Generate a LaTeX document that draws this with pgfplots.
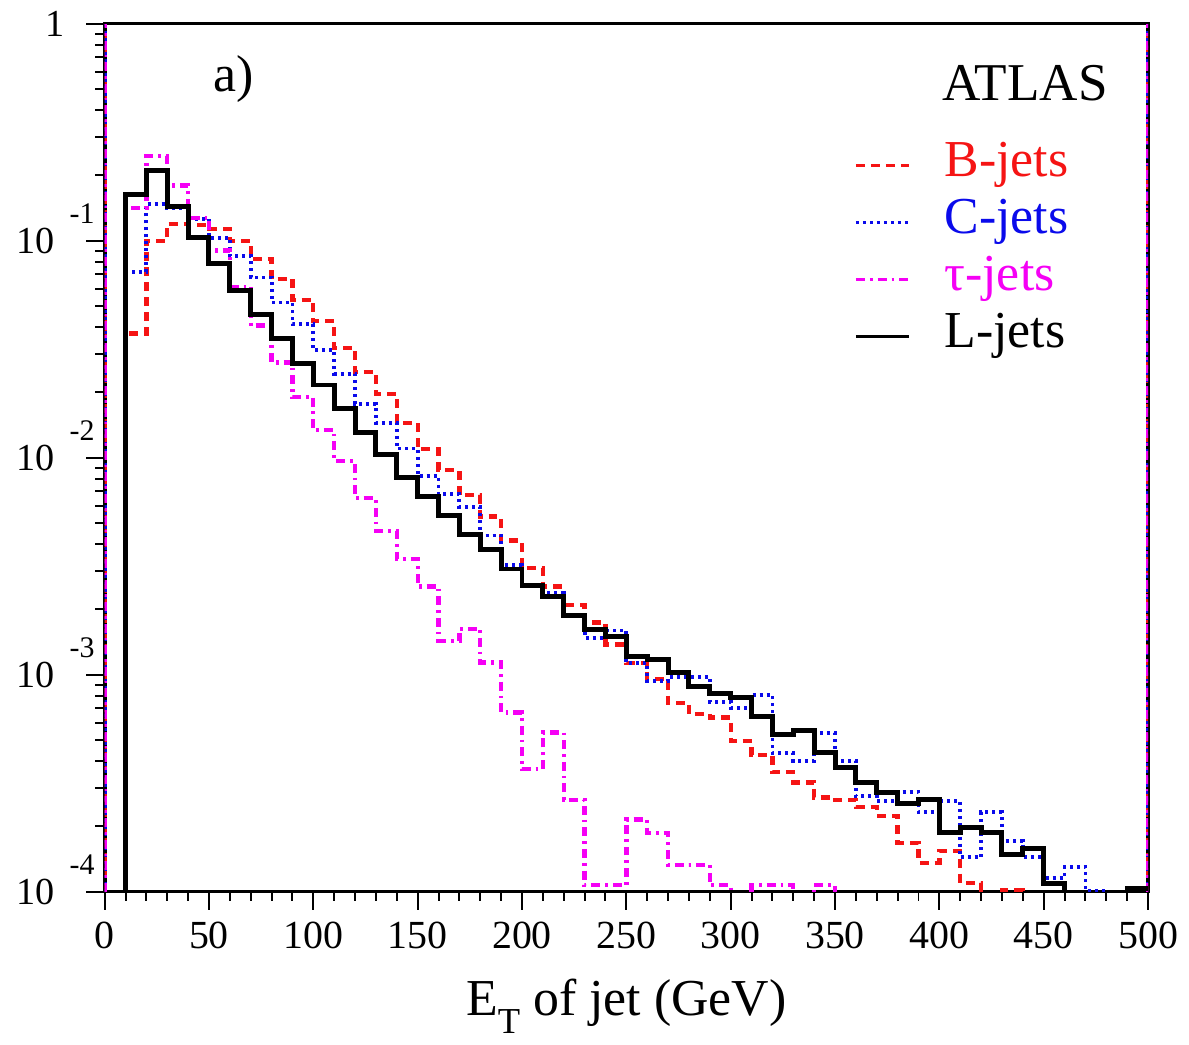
\documentclass[border=0pt]{standalone}
\usepackage{fontspec}
\setmainfont{Liberation Serif}
\usepackage{pgfplots}
\pgfplotsset{compat=1.18}
\usepackage{pgfplotstable}

\definecolor{hred}{RGB}{245,20,20}
\definecolor{hblue}{RGB}{10,10,235}
\definecolor{hmag}{RGB}{245,0,245}

\pgfplotstableread{
x L B C T
0 1e-6 1e-6 1e-6 1e-6
10 0.1634 0.0374 0.0719 0.1418
20 0.2106 0.0997 0.1480 0.2450
30 0.1433 0.1198 0.1418 0.1798
40 0.1033 0.1181 0.1259 0.1272
50 0.0784 0.1132 0.1033 0.0900
60 0.0592 0.1000 0.0851 0.0613
70 0.0456 0.0822 0.0677 0.0406
80 0.03527 0.0665 0.0519 0.0275
90 0.02725 0.0533 0.0412 0.0190
100 0.02163 0.0425 0.0314 0.01338
110 0.01682 0.0321 0.0244 0.00964
120 0.01300 0.0248 0.01774 0.00650
130 0.01038 0.0197 0.01445 0.00461
140 0.00808 0.0145 0.01102 0.00341
150 0.00661 0.01094 0.00825 0.00255
160 0.00539 0.00876 0.00680 0.00143
170 0.00441 0.00673 0.00591 0.00163
180 0.00376 0.00535 0.00438 0.00114
190 0.00307 0.00415 0.00321 0.000669
200 0.00257 0.00310 0.00257 0.000367
210 0.00229 0.00255 0.00239 0.000541
220 0.00187 0.00210 0.00186 0.000265
230 0.00161 0.00174 0.00148 0.000107
240 0.00150 0.00138 0.00160 0.000107
250 0.00121 0.00113 0.00113 0.000215
260 0.00118 0.000958 0.000934 0.000187
270 0.00102 0.000743 0.000974 0.000133
280 0.000881 0.000660 0.000975 0.000133
290 0.000818 0.000634 0.000750 0.000107
300 0.000783 0.000495 0.000705 1e-6
310 0.000641 0.000426 0.000805 0.000107
320 0.000532 0.000355 0.000435 0.000107
330 0.000556 0.000319 0.000401 1e-6
340 0.000438 0.000272 0.000537 0.000107
350 0.000374 0.000265 0.000401 1e-6
360 0.000319 0.000245 0.000275 1e-6
370 0.000287 0.000224 0.000261 1e-6
380 0.000254 0.000168 0.000289 1e-6
390 0.000267 0.000136 0.000232 1e-6
400 0.000188 0.000154 0.000262 1e-6
410 0.000198 0.000110 0.000144 1e-6
420 0.000188 1e-6 0.000232 1e-6
430 0.000149 0.000102 0.000172 1e-6
440 0.000158 1e-6 0.000144 1e-6
450 0.000109 1e-6 0.000116 1e-6
460 1e-6 1e-6 0.000130 1e-6
470 1e-6 1e-6 0.000101 1e-6
480 1e-6 1e-6 1e-6 1e-6
490 0.000104 1e-6 1e-6 1e-6
500 0.000104 1e-6 1e-6 1e-6
}\histdata

\newcommand\ex[1]{\kern4.5pt\smash{\raisebox{0.78em}{\fontsize{9}{9}\selectfont #1}}}

\tikzset{
  bstyle/.style={hred, line width=1.3pt, dash pattern=on 2.7pt off 1.8pt},
  cstyle/.style={hblue, line width=1.15pt, dash pattern=on 0.9pt off 1.2pt},
  tstyle/.style={hmag, line width=1.3pt, dash pattern=on 2.7pt off 1.5pt on 0.8pt off 1.5pt},
  lstyle/.style={black, line width=1.5pt, solid},
}

\begin{document}
\begin{tikzpicture}
\begin{axis}[
  scale only axis,
  width=314.1pt, height=261.3pt,
  xmin=0, xmax=500,
  ymode=log, ymin=1e-4, ymax=1,
  axis line style={line width=1pt},
  tick align=outside,
  xtick pos=left, ytick pos=left,
  xtick={0,50,100,150,200,250,300,350,400,450,500},
  xticklabels={0,50,100,150,200,250,300,350,400,450,500},
  minor x tick num=4,
  ytick={1e-4,1e-3,1e-2,1e-1,1},
  yticklabels={10\ex{-4},10\ex{-3},10\ex{-2},10\ex{-1},1\rule{9pt}{0pt}},
  major tick length=5.5pt, minor tick length=2.8pt,
  tick style={line width=0.6pt, black},
  ticklabel style={font=\fontsize{12}{14}\selectfont},
  yticklabel style={font=\fontsize{11.5}{14}\selectfont, xshift=6pt},
  xlabel={E\raisebox{-0.35em}{\fontsize{11}{11}\selectfont T} of jet (GeV)},
  xlabel style={font=\fontsize{15.6}{18}\selectfont, at={(axis description cs:0.5,-0.132)}, anchor=center},
  legend cell align=left,
  legend image code/.code={\draw[#1, line width=0.9pt] (0pt,0pt) -- (16pt,0pt);},
  legend style={draw=none, fill=none, at={(axis description cs:0.718,0.870)}, anchor=north west,
    inner sep=0pt, font=\fontsize{15.6}{18}\selectfont,
    nodes={inner sep=1.2pt, text height=10.7pt, text depth=4pt},
    /tikz/every odd column/.append style={column sep=9pt}},
]
\addplot[lstyle, forget plot] coordinates {(0,1e-4) (0,1)};
\addplot[lstyle, forget plot] coordinates {(500,1e-4) (500,1)};
\addplot[bstyle, forget plot] coordinates {(0,1e-4) (0,1)};
\addplot[bstyle, forget plot] coordinates {(500,1e-4) (500,1)};
\addplot[cstyle, forget plot] coordinates {(0,1e-4) (0,1)};
\addplot[cstyle, forget plot] coordinates {(500,1e-4) (500,1)};
\addplot[tstyle, forget plot] coordinates {(0,1e-4) (0,1)};
\addplot[tstyle, forget plot] coordinates {(500,1e-4) (500,1)};

\addplot[bstyle, const plot mark left] table[x=x, y=B] {\histdata};
\addlegendentry{\textcolor{hred}{B-jets}}
\addplot[cstyle, const plot mark left] table[x=x, y=C] {\histdata};
\addlegendentry{\textcolor{hblue}{C-jets}}
\addplot[tstyle, const plot mark left] table[x=x, y=T] {\histdata};
\addlegendentry{\textcolor{hmag}{τ-jets}}
\addplot[lstyle, const plot mark left] table[x=x, y=L] {\histdata};
\addlegendentry{L-jets}

\node[font=\fontsize{16}{18}\selectfont] at (axis description cs:0.882,0.932) {ATLAS};
\node[font=\fontsize{15.6}{18}\selectfont] at (axis description cs:0.124,0.936) {a)};
\coordinate (bl) at (axis description cs:-0.1003,-0.1607);
\coordinate (tr) at (axis description cs:1.0353,1.0253);
\end{axis}
\path (bl) rectangle (tr);
\end{tikzpicture}
\end{document}
